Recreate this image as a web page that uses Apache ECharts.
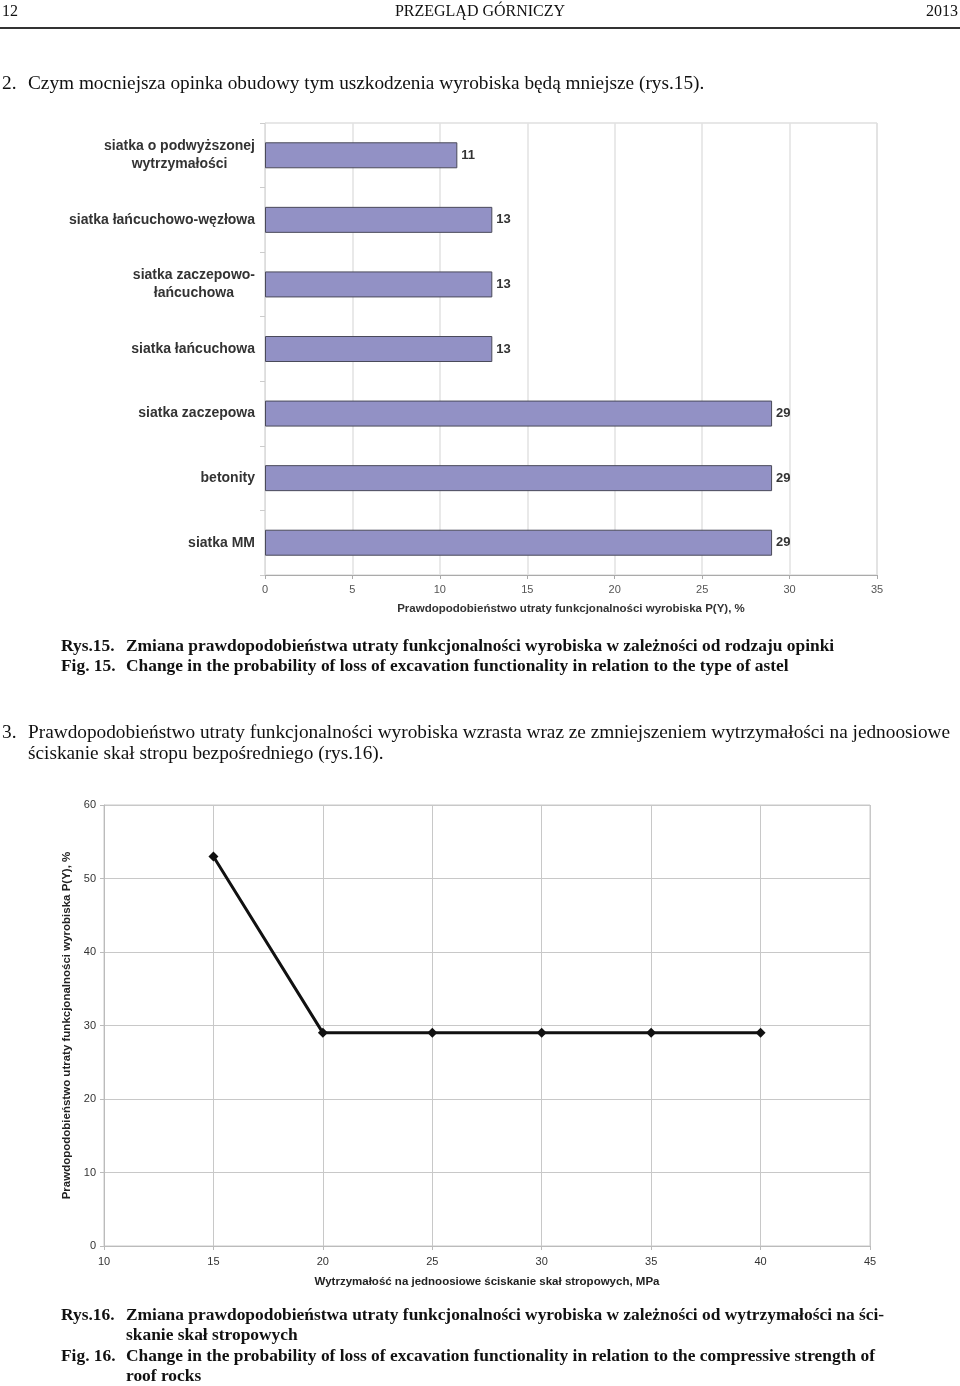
<!DOCTYPE html>
<html lang="pl">
<head>
<meta charset="utf-8">
<title>Rys.15 i Rys.16</title>
<script src="https://cdn.jsdelivr.net/npm/echarts@6/dist/echarts.min.js"></script>
<style>
  html, body { margin: 0; padding: 0; background: #fff; }
  body { width: 960px; height: 1386px; position: relative; overflow: hidden;
         font-family: 'Liberation Serif', 'Times New Roman', serif; color: #111; }
  #chart { position: absolute; left: 0; top: 0; width: 960px; height: 1386px; }
  .t { position: absolute; white-space: nowrap; }
  .head { font-size: 16px; top: 2px; }
  .para { font-size: 19.3px; }
  .cap { font-size: 17.4px; font-weight: bold; }
  .rule { position: absolute; left: 0; top: 27px; width: 960px; height: 2px; background: #333; }
</style>
</head>
<body>
<div id="chart"></div>

<!-- tekst strony -->
<div class="t head" style="left:2px">12</div>
<div class="t head" style="left:0;width:960px;text-align:center">PRZEGLĄD GÓRNICZY</div>
<div class="t head" style="right:2px">2013</div>
<div class="rule"></div>

<div class="t para" style="left:2px;top:72px">2.</div>
<div class="t para" style="left:28px;top:72px">Czym mocniejsza opinka obudowy tym uszkodzenia wyrobiska będą mniejsze (rys.15).</div>

<div class="t cap" style="left:61px;top:635px">Rys.15.</div>
<div class="t cap" style="left:126px;top:635px">Zmiana prawdopodobieństwa utraty funkcjonalności wyrobiska w zależności od rodzaju opinki</div>
<div class="t cap" style="left:61px;top:655px">Fig. 15.</div>
<div class="t cap" style="left:126px;top:655px">Change in the probability of loss of excavation functionality in relation to the type of astel</div>

<div class="t para" style="left:2px;top:721px">3.</div>
<div class="t para" style="left:28px;top:721px">Prawdopodobieństwo utraty funkcjonalności wyrobiska wzrasta wraz ze zmniejszeniem wytrzymałości na jednoosiowe</div>
<div class="t para" style="left:28px;top:742px">ściskanie skał stropu bezpośredniego (rys.16).</div>

<div class="t cap" style="left:61px;top:1304px">Rys.16.</div>
<div class="t cap" style="left:126px;top:1304px">Zmiana prawdopodobieństwa utraty funkcjonalności wyrobiska w zależności od wytrzymałości na ści-</div>
<div class="t cap" style="left:126px;top:1324px">skanie skał stropowych</div>
<div class="t cap" style="left:61px;top:1345px">Fig. 16.</div>
<div class="t cap" style="left:126px;top:1345px">Change in the probability of loss of excavation functionality in relation to the compressive strength of</div>
<div class="t cap" style="left:126px;top:1365px">roof rocks</div>

<script>
  // Rys.15 - rodzaj opinki i prawdopodobieństwo P(Y), %
  var opinkaNames = [
    'siatka o podwyższonej\nwytrzymałości',
    'siatka łańcuchowo-węzłowa',
    'siatka zaczepowo-\nłańcuchowa',
    'siatka łańcuchowa',
    'siatka zaczepowa',
    'betonity',
    'siatka MM'
  ];
  var opinkaValues = [11, 13, 13, 13, 29, 29, 29];

  // Rys.16 - wytrzymałość skał stropowych (MPa) i P(Y), %
  var strength = [15, 20, 25, 30, 35, 40];
  var probability = [53, 29, 29, 29, 29, 29];

  var chart = echarts.init(document.getElementById('chart'));

  var sans = 'Liberation Sans, Arial, sans-serif';
  var gridGray = '#c8c8c8';
  var tickGray = '#555';

  var option = {
    backgroundColor: 'transparent',
    animation: false,
    grid: [
      { left: 265, top: 123, width: 612, height: 452, show: true,
        borderColor: '#cfcfcf', borderWidth: 1 },
      { left: 104, top: 805, width: 766, height: 441, show: true,
        borderColor: gridGray, borderWidth: 1 }
    ],
    xAxis: [
      {
        gridIndex: 0, type: 'value', min: 0, max: 35, interval: 5,
        name: 'Prawdopodobieństwo utraty funkcjonalności wyrobiska P(Y), %',
        nameLocation: 'middle', nameGap: 28,
        nameTextStyle: { fontFamily: sans, fontWeight: 'bold', fontSize: 11.5, color: '#333' },
        axisLine: { show: true, lineStyle: { color: '#aaa' } },
        axisTick: { show: true, length: 4, lineStyle: { color: '#aaa' } },
        axisLabel: { fontFamily: sans, fontSize: 11, color: tickGray, margin: 9 },
        splitLine: { show: true, lineStyle: { color: '#e2e2e2', width: 1.5 } }
      },
      {
        gridIndex: 1, type: 'value', min: 10, max: 45, interval: 5,
        name: 'Wytrzymałość na jednoosiowe ściskanie skał stropowych, MPa',
        nameLocation: 'middle', nameGap: 30,
        nameTextStyle: { fontFamily: sans, fontWeight: 'bold', fontSize: 11.5, color: '#222' },
        axisLine: { show: true, lineStyle: { color: '#bbb' } },
        axisTick: { show: true, length: 4, lineStyle: { color: '#bbb' } },
        axisLabel: { fontFamily: sans, fontSize: 11, color: '#333', margin: 10 },
        splitLine: { show: true, lineStyle: { color: gridGray, width: 1 } }
      }
    ],
    yAxis: [
      {
        gridIndex: 0, type: 'category', inverse: true, data: opinkaNames,
        axisLine: { show: true, lineStyle: { color: '#ddd' } },
        axisTick: { show: true, length: 5, lineStyle: { color: '#ccc' } },
        axisLabel: {
          margin: 10,
          formatter: function (v) {
            return v.split('\n').map(function (l) { return '{c|' + l + '}'; }).join('\n');
          },
          rich: {
            c: { align: 'center', fontFamily: sans, fontWeight: 'bold', fontSize: 14,
                 color: '#333', lineHeight: 18 }
          }
        },
        splitLine: { show: false }
      },
      {
        gridIndex: 1, type: 'value', min: 0, max: 60, interval: 10,
        name: 'Prawdopodobieństwo utraty funkcjonalności wyrobiska P(Y), %',
        nameLocation: 'middle', nameGap: 28, nameRotate: 90,
        nameTextStyle: { fontFamily: sans, fontWeight: 'bold', fontSize: 11.5, color: '#222' },
        axisLine: { show: true, lineStyle: { color: '#bbb' } },
        axisTick: { show: true, length: 4, lineStyle: { color: '#bbb' } },
        axisLabel: { fontFamily: sans, fontSize: 11, color: '#333', margin: 8 },
        splitLine: { show: true, lineStyle: { color: gridGray, width: 1 } }
      }
    ],
    series: [
      {
        type: 'bar', xAxisIndex: 0, yAxisIndex: 0,
        data: opinkaValues,
        barWidth: 26,
        itemStyle: { color: '#9291c5', borderColor: '#4a4a5a', borderWidth: 1 },
        label: {
          show: true, position: 'right', distance: 4,
          fontFamily: sans, fontWeight: 'bold', fontSize: 13, color: '#333'
        }
      },
      {
        type: 'line', xAxisIndex: 1, yAxisIndex: 1,
        data: strength.map(function (s, i) { return [s, probability[i]]; }),
        symbol: 'diamond', symbolSize: 10,
        lineStyle: { color: '#111', width: 3 },
        itemStyle: { color: '#111' }
      }
    ]
  };

  chart.setOption(option);
</script>
</body>
</html>
